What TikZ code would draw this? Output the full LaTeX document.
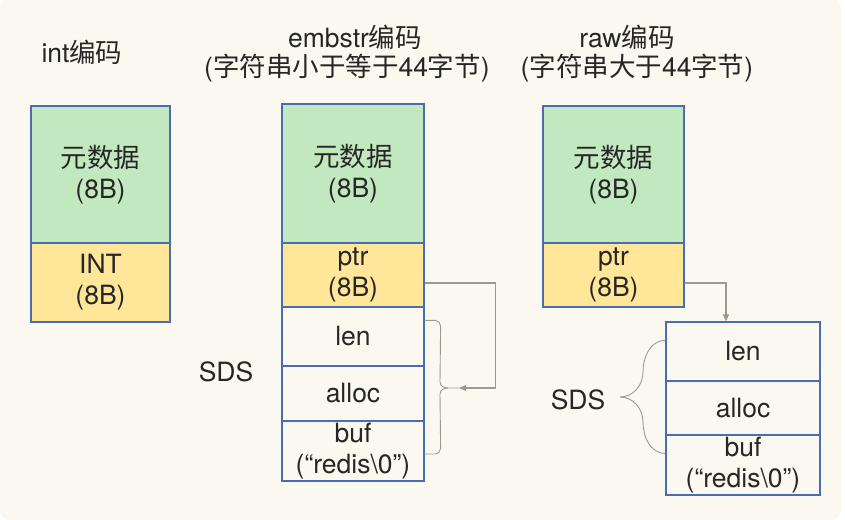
\documentclass[tikz,border=0pt]{standalone}
\usepackage{fontspec}
\setmainfont{TeX Gyre Heros}
\newfontfamily\cjk{Noto Sans CJK SC}
\usetikzlibrary{arrows.meta}
\definecolor{bgc}{HTML}{FBF9EF}
\definecolor{boxblue}{HTML}{4A6CB3}
\definecolor{metagreen}{HTML}{C2E8BF}
\definecolor{ptryellow}{HTML}{FFE699}
\definecolor{txt}{HTML}{262626}
\definecolor{conngray}{HTML}{9A9A9A}
\begin{document}
\begin{tikzpicture}[x=1pt,y=-1pt,
  cell/.style={draw=boxblue, line width=1.2pt, inner sep=0pt, align=center,
    text=txt, font=\fontsize{26.5}{31}\selectfont},
  meta/.style={cell, fill=metagreen},
  ptrcell/.style={cell, fill=ptryellow},
  sdscell/.style={cell, fill=bgc},
  title/.style={text=txt, align=center, inner sep=0pt, font=\fontsize{26.5}{31}\selectfont},
  lbl/.style={text=txt, inner sep=0pt, font=\fontsize{26.5}{31}\selectfont},
  conn/.style={draw=conngray, line width=1.1pt},
  brace/.style={draw=conngray, line width=0.9pt},
  tip/.style={-{Triangle[length=7pt,width=6pt]}}
]
\useasboundingbox (0,0) rectangle (845,519);
\fill[white] (0,0) rectangle (845,519);
\fill[bgc, rounded corners=10pt] (0,-2) rectangle (841,520);

% titles
\node[title] (tint) at (82,52) {int{\cjk 编码}};
\node[title] (temb) at (355,37) {embstr{\cjk 编码}};
\node[title] (tembsub) at (347,68) {({\cjk 字符串小于等于}44{\cjk 字节})};
\node[title] (traw) at (627,37) {raw{\cjk 编码}};
\node[title] (trawsub) at (637,68) {({\cjk 字符串大于}44{\cjk 字节})};

% int column
\node[meta, minimum width=139pt, minimum height=137pt] (metaI) at (100.5,174.5) {{\cjk 元数据}\\(8B)};
\node[ptrcell, minimum width=139pt, minimum height=79pt] (intI) at (100.5,282.5) {INT\\(8B)};

% embstr column
\node[meta, minimum width=142pt, minimum height=139pt] (metaE) at (353,173.5) {{\cjk 元数据}\\(8B)};
\node[ptrcell, minimum width=142pt, minimum height=64pt] (ptrE) at (353,275) {ptr\\(8B)};
\node[sdscell, minimum width=142pt, minimum height=59pt] (lenE) at (353,336.5) {len};
\node[sdscell, minimum width=142pt, minimum height=55pt] (allocE) at (353,393.5) {alloc};
\node[sdscell, minimum width=142pt, minimum height=60pt] (bufE) at (353,451) {buf\\(“redis\textbackslash 0”)};
\node[lbl] (sdsE) at (226,372) {SDS};

% raw column
\node[meta, minimum width=141pt, minimum height=137pt] (metaR) at (613.5,174.5) {{\cjk 元数据}\\(8B)};
\node[ptrcell, minimum width=141pt, minimum height=64pt] (ptrR) at (613.5,275) {ptr\\(8B)};
\node[sdscell, minimum width=154pt, minimum height=59pt] (lenR) at (743,351.5) {len};
\node[sdscell, minimum width=154pt, minimum height=54pt] (allocR) at (743,408) {alloc};
\node[sdscell, minimum width=154pt, minimum height=60pt] (bufR) at (743,465) {buf\\(“redis\textbackslash 0”)};
\node[lbl] (sdsR) at (578,400) {SDS};

% embstr brace and pointer
\coordinate (braceTipE) at (448,388);
\coordinate (arrTipE) at (459,388);
\draw[brace] ([yshift=-14pt]lenE.north east) -- ++(11,0) to[out=0,in=90] ++(5,6) -- (440,382) to[out=270,in=180] (braceTipE) -- (arrTipE);
\draw[brace] ([yshift=-3pt]bufE.east) -- ++(11,0) to[out=0,in=270] ++(5,-6) -- (440,394) to[out=90,in=180] (braceTipE);
\draw[conn,tip] ([yshift=-8pt]ptrE.east) -- ++(71,0) |- (arrTipE);

% raw brace and pointer
\coordinate (braceTipR) at (620,397);
\draw[brace] ([yshift=-19pt]lenR.north west) to[out=180,in=90] (643,372) to[out=270,in=0] (braceTipR);
\draw[brace] ([yshift=-19pt]bufR.north west) to[out=180,in=270] (643,422) to[out=90,in=0] (braceTipR);
\draw[conn,tip] ([yshift=-8pt]ptrR.east) -| ([xshift=-17pt]lenR.north);
\end{tikzpicture}
\end{document}
